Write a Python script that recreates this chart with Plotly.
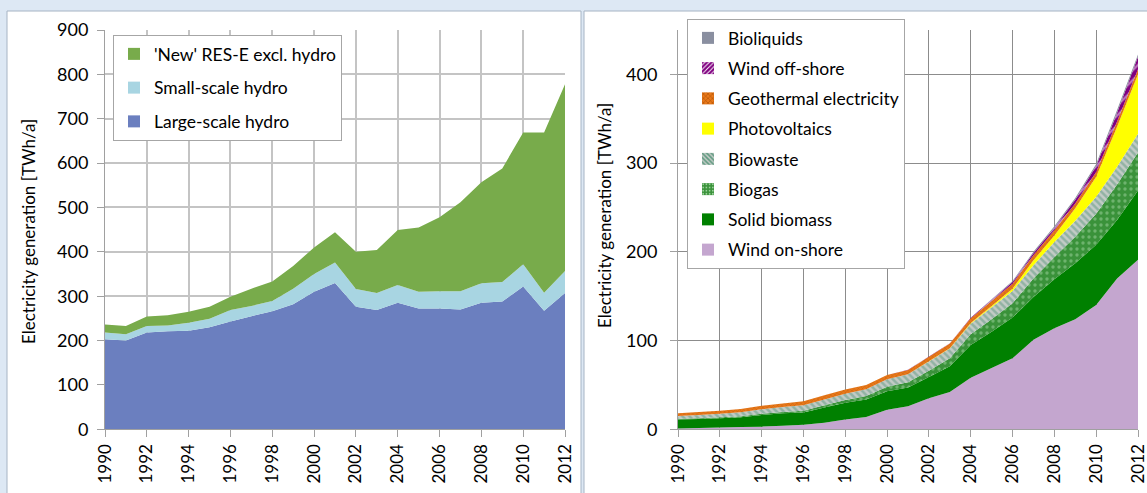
import plotly.graph_objects as go

W, H = 1147, 493

years = list(range(1990, 2013))

# left chart (TWh/a)
large_hydro = [203, 200, 218, 221, 222, 230, 243, 255, 266, 282, 310, 330, 276, 269, 285, 272, 272, 270, 285, 288, 322, 267, 307]
small_hydro = [15, 14, 15, 13, 18, 19, 26, 23, 23, 35, 40, 46, 40, 38, 40, 38, 39, 41, 44, 44, 50, 41, 50]
new_res = [18, 19, 21, 23, 25, 27, 30, 39, 44, 51, 60, 68, 84, 97, 124, 145, 167, 201, 228, 256, 297, 361, 421]

# right chart (TWh/a)
wind_onshore = [1, 1.5, 2, 2.5, 3, 4, 5, 7.5, 11, 14, 22, 26, 35, 42, 58, 69, 80, 101, 114, 124, 140, 170, 191]
solid_biomass = [10, 10, 10.5, 11, 13, 14, 14, 17, 19, 19.5, 21, 21, 24, 29, 37, 41, 46, 48, 55, 63, 68, 66, 78]
biogas = [1, 1, 1, 1.2, 1.5, 1.5, 2, 2.5, 3, 4, 5, 6, 7, 9, 12, 14, 16, 21, 25, 30, 35, 40, 43]
biowaste = [3, 3.5, 4, 4.5, 5, 5.5, 6, 6.5, 7, 7.5, 8.5, 9, 10.5, 11, 12, 13.5, 14, 15, 17, 18, 19, 20, 21]
photovoltaics = [0, 0, 0, 0, 0, 0, 0, 0, 0, 0, 0, 0, 0.2, 0.3, 0.7, 1.5, 2.5, 5.4, 7.4, 14, 22.5, 45, 67]
geothermal = [3.2, 3.5, 3.5, 3.8, 4, 4.2, 4.5, 4.8, 4.8, 4.8, 4.8, 4.8, 5, 5.4, 5.5, 5.5, 5.6, 5.8, 5.8, 5.6, 5.6, 5.8, 5.8]
wind_offshore = [0, 0, 0, 0, 0, 0, 0, 0, 0, 0, 0, 0.2, 0.3, 0.4, 0.5, 1.5, 2, 2.3, 3, 4, 6.5, 10, 14]
bioliquids = [0, 0, 0, 0, 0, 0, 0, 0, 0, 0, 0, 0, 0, 0, 0, 0.5, 1, 1.5, 1.7, 2, 2.5, 3, 2.5]

FONT = "Lato, 'Open Sans', sans-serif"


def px_x(p):
    return p / W


def px_y(p):
    return 1 - p / H


fig = go.Figure()

left_series = [
    ("Large-scale hydro", large_hydro, "#6b7fbf", None),
    ("Small-scale hydro", small_hydro, "#a8d5e2", None),
    ("'New' RES-E excl. hydro", new_res, "#78ab4b", None),
]
right_series = [
    ("Wind on-shore", wind_onshore, "#c4a6cf", None),
    ("Solid biomass", solid_biomass, "#008000", None),
    ("Biogas", biogas, "#3f963f", dict(shape=".", fgcolor="#9fd49f", bgcolor="#3a923a", size=6, solidity=0.25)),
    ("Biowaste", biowaste, "#a9bcb1", dict(shape="\\", fgcolor="#5f9a80", bgcolor="#c3cbc6", size=5, solidity=0.5)),
    ("Photovoltaics", photovoltaics, "#ffff00", None),
    ("Geothermal electricity", geothermal, "#d9680f", dict(shape="x", fgcolor="#a84c00", bgcolor="#e8781a", size=3, solidity=0.3)),
    ("Wind off-shore", wind_offshore, "#800080", dict(shape="/", fgcolor="#ffffff", bgcolor="#800080", size=7, solidity=0.3)),
    ("Bioliquids", bioliquids, "#8a8fa0", None),
]

# stacked areas, drawn bottom layer first
for group, series, xa, ya in [("left", left_series, "x", "y"), ("right", right_series, "x2", "y2")]:
    for name, vals, color, pat in series:
        fig.add_trace(go.Scatter(
            x=years, y=vals, name=name, stackgroup=group, mode="none",
            fillcolor=color, fillpattern=pat, xaxis=xa, yaxis=ya, showlegend=False,
        ))

# legend entries (square swatches), listed top to bottom
for legend_id, series, xa, ya in [("legend", left_series, "x", "y"), ("legend2", right_series, "x2", "y2")]:
    for name, vals, color, pat in reversed(series):
        marker = dict(color=color, line=dict(width=0))
        if pat:
            marker["pattern"] = dict(shape=pat["shape"], fgcolor=pat["fgcolor"], bgcolor=pat["bgcolor"],
                                     size=4, solidity=pat["solidity"], fillmode="replace")
        fig.add_trace(go.Bar(x=[None], y=[None], name=name, marker=marker, xaxis=xa, yaxis=ya,
                             legend=legend_id, legendgroup=name, showlegend=True))

# background panels
fig.add_shape(type="rect", xref="paper", yref="paper", x0=px_x(7), x1=px_x(581), y0=px_y(500), y1=px_y(11),
              fillcolor="white", line=dict(color="#a6b4c4", width=1), layer="below")
fig.add_shape(type="rect", xref="paper", yref="paper", x0=px_x(584), x1=px_x(1160), y0=px_y(500), y1=px_y(11),
              fillcolor="white", line=dict(color="#a6b4c4", width=1), layer="below")

axis_common = dict(showline=True, linecolor="#a0a0a0", ticks="outside", ticklen=7, tickcolor="#a0a0a0",
                   zeroline=False, automargin=False, ticklabeloverflow="allow",
                   tickfont=dict(family=FONT, color="#000"))

fig.update_layout(
    width=W, height=H,
    margin=dict(l=0, r=0, t=0, b=0, autoexpand=False),
    paper_bgcolor="#dde8f4",
    plot_bgcolor="white",
    font=dict(family=FONT, size=17.5, color="#000"),
    showlegend=True,
    xaxis=dict(domain=[px_x(105), px_x(565)], range=[1990, 2012], tick0=1990, dtick=2, tickangle=-90,
               showgrid=True, gridcolor="#c4c4c4", gridwidth=2, anchor="y", **axis_common),
    yaxis=dict(domain=[px_y(429.3), px_y(30)], range=[0, 900], dtick=100, showgrid=True,
               gridcolor="#c4c4c4", gridwidth=2, anchor="x", ticklabelstandoff=5, **axis_common),
    xaxis2=dict(domain=[px_x(678), px_x(1138)], range=[1990, 2012], tick0=1990, dtick=2, tickangle=-90,
                showgrid=True, gridcolor="#8c8c8c", gridwidth=1, anchor="y2", **axis_common),
    yaxis2=dict(domain=[px_y(429.3), px_y(30)], range=[0, 450], tickvals=[0, 100, 200, 300, 400],
                showgrid=True, gridcolor="#8c8c8c", gridwidth=1, anchor="x2", ticklabelstandoff=9,
                **axis_common),
    legend=dict(x=px_x(113), y=px_y(35), xanchor="left", yanchor="top", bgcolor="white",
                bordercolor="#a6a6a6", borderwidth=1, traceorder="grouped", tracegroupgap=8,
                font=dict(family=FONT, size=17.5)),
    legend2=dict(x=px_x(687), y=px_y(19), xanchor="left", yanchor="top", bgcolor="white",
                 bordercolor="#a6a6a6", borderwidth=1, traceorder="grouped", tracegroupgap=4.5,
                 font=dict(family=FONT, size=17.5)),
)
fig.update_xaxes(tickfont_size=17)
fig.update_yaxes(tickfont_size=18)

for xp, yp in [(28, 232), (604, 216)]:
    fig.add_annotation(text="Electricity generation [TWh/a]", xref="paper", yref="paper",
                       x=px_x(xp), y=px_y(yp), xanchor="center", yanchor="middle",
                       textangle=-90, showarrow=False,
                       font=dict(family=FONT, size=17, color="#000"))

# page body margin off, so the figure sits at the window's top-left corner
fig.write_html("out.html", config={"displayModeBar": False},
               post_script="document.body.style.margin='0';")
